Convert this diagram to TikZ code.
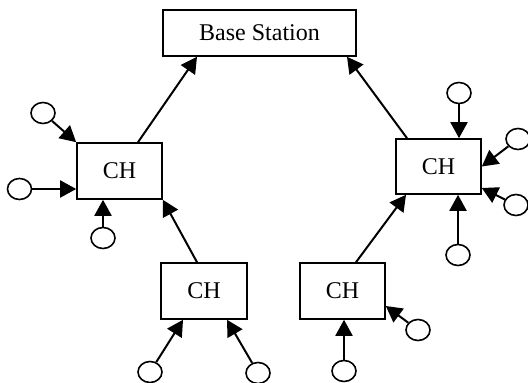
\documentclass[tikz,border=0pt]{standalone}
\usepackage{fontspec}
\setmainfont{Liberation Serif}
\usetikzlibrary{shapes.geometric,arrows.meta,calc}
\begin{document}
\begin{tikzpicture}[x=0.5pt,y=-0.5pt,
  box/.style={draw,line width=0.8pt,rectangle,inner sep=0pt,font=\fontsize{12}{14}\selectfont},
  sensor/.style={draw,line width=0.8pt,ellipse,inner sep=0pt,minimum width=12pt,minimum height=10.5pt},
  link/.style={line width=1pt,-{Triangle[length=8pt,width=8.5pt]}}]
\useasboundingbox (0,0) rectangle (528,383);
% boxes
\node[box,minimum width=96.5pt,minimum height=23pt] (bs) at (259.5,33) {Base Station};
\node[box,minimum width=42.5pt,minimum height=28pt] (lch) at (119.5,171) {CH};
\node[box,minimum width=42.5pt,minimum height=27.5pt] (rch) at (438.5,166.5) {CH};
\node[box,minimum width=43pt,minimum height=28pt] (blch) at (204,291) {CH};
\node[box,minimum width=42.5pt,minimum height=28pt] (brch) at (342.5,291) {CH};
% sensors
\node[sensor] (a1) at (43,113) {};
\node[sensor] (a2) at (19.5,189) {};
\node[sensor] (a3) at (103,238) {};
\node[sensor] (b1) at (459,93) {};
\node[sensor] (b2) at (518,139) {};
\node[sensor] (b3) at (516,205) {};
\node[sensor] (b4) at (458,255) {};
\node[sensor] (c1) at (150,372) {};
\node[sensor] (c2) at (258,373) {};
\node[sensor] (d1) at (344,371) {};
\node[sensor] (d2) at (418,330) {};
% links to base station
\draw[link] ([xshift=9.25pt]lch.north) -- ([xshift=-31.25pt]bs.south);
\draw[link] ([xshift=-15.75pt]rch.north) -- ([xshift=43.75pt]bs.south);
% left cluster head
\draw[link] (a1) -- (lch.north west);
\draw[link] (a2) -- ([yshift=-9pt]lch.west);
\draw[link] (a3) -- (a3 |- lch.south);
\draw[link] ([xshift=-3.5pt]blch.north) -- (lch.south east);
% bottom-left cluster head
\draw[link] (c1) -- ([xshift=-10.5pt]blch.south);
\draw[link] (c2) -- ([xshift=11.5pt]blch.south);
% right cluster head
\draw[link] (b1) -- (b1 |- rch.north);
\draw[link] (b2) -- (rch.east);
\draw[link] (b3) -- ([yshift=-10.75pt]rch.east);
\draw[link] (b4) -- (b4 |- rch.south);
\draw[link] ([xshift=6.75pt]brch.north) -- ([xshift=-16.25pt]rch.south);
% bottom-right cluster head
\draw[link] (d1) -- (d1 |- brch.south);
\draw[link] (d2) -- ([yshift=-7.5pt]brch.east);
\end{tikzpicture}
\end{document}
